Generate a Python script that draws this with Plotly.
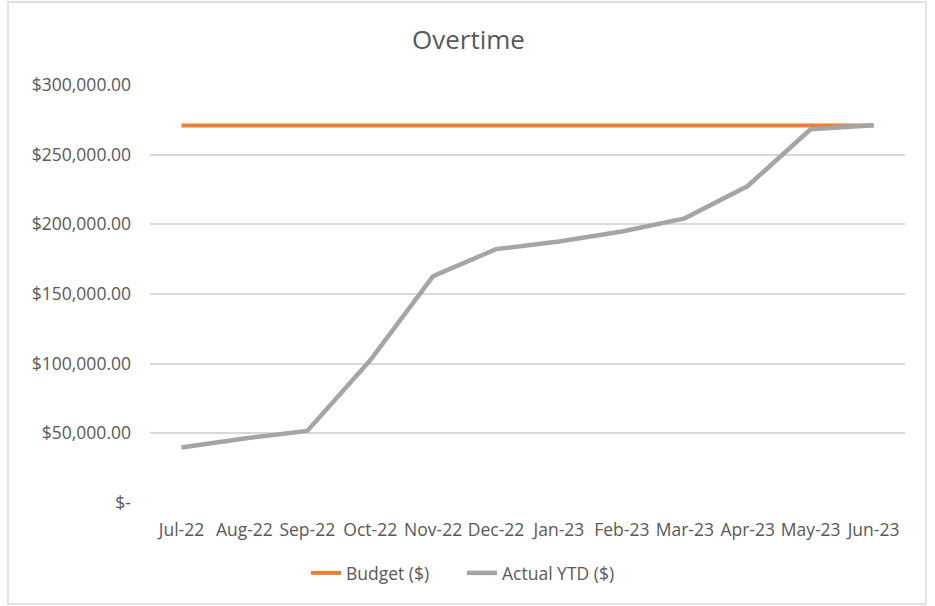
import plotly.graph_objects as go

months = ["Jul-22", "Aug-22", "Sep-22", "Oct-22", "Nov-22", "Dec-22",
          "Jan-23", "Feb-23", "Mar-23", "Apr-23", "May-23", "Jun-23"]
budget = [271000] * 12
actual_ytd = [39800, 46300, 51700, 102400, 162800, 182200,
              187700, 194900, 204300, 227500, 268200, 271100]

y_tickvals = [0, 50000, 100000, 150000, 200000, 250000, 300000]
y_ticktext = ["$-", "$50,000.00", "$100,000.00", "$150,000.00",
              "$200,000.00", "$250,000.00", "$300,000.00"]

W, H = 935, 606
L, R, T, B = 150, 30, 85, 103
pw, ph = W - L - R, H - T - B

def px_to_paper_x(px):
    return (px - L) / pw

def px_to_paper_y(py):
    return (H - B - py) / ph

text_color = "#595959"
font_family = "Open Sans, Liberation Sans, sans-serif"

fig = go.Figure()
fig.add_trace(go.Scatter(x=months, y=budget, mode="lines", name="Budget ($)",
                         line=dict(color="#ED7D31", width=4)))
fig.add_trace(go.Scatter(x=months, y=actual_ytd, mode="lines", name="Actual YTD ($)",
                         line=dict(color="#A5A5A5", width=4.5)))

fig.update_layout(
    width=W, height=H,
    margin=dict(l=L, r=R, t=T, b=B),
    paper_bgcolor="white", plot_bgcolor="white",
    font=dict(family=font_family, color=text_color, size=17.5),
    title=dict(text="Overtime", x=0.501, xanchor="center", y=1 - 40 / H,
               yanchor="middle", font=dict(size=26, color=text_color)),
    showlegend=True,
    legend=dict(orientation="h", x=px_to_paper_x(462), xanchor="center",
                y=px_to_paper_y(573), yanchor="middle",
                font=dict(size=17.5, color=text_color),
                entrywidth=111, entrywidthmode="pixels",
                traceorder="normal"),
    xaxis=dict(type="category", range=[-0.5, 11.5], showgrid=False,
               showline=False, zeroline=False, ticks="",
               ticklabelstandoff=14, tickfont=dict(size=17.5, color=text_color)),
    yaxis=dict(range=[0, 300000], tickvals=y_tickvals, ticktext=y_ticktext,
               showgrid=True, gridcolor="#D9D9D9", gridwidth=1.5,
               zeroline=False, showline=False, ticks="",
               ticklabelstandoff=18, tickfont=dict(size=17.5, color=text_color)),
    shapes=[dict(type="rect", xref="paper", yref="paper",
                 x0=px_to_paper_x(8), x1=px_to_paper_x(926),
                 y0=px_to_paper_y(604), y1=px_to_paper_y(2),
                 line=dict(color="#D9D9D9", width=1.5), fillcolor="rgba(0,0,0,0)",
                 layer="below")],
)

fig.write_html("out.html", config={"displayModeBar": False},
               post_script="document.body.style.margin='0';document.body.style.padding='0';")
